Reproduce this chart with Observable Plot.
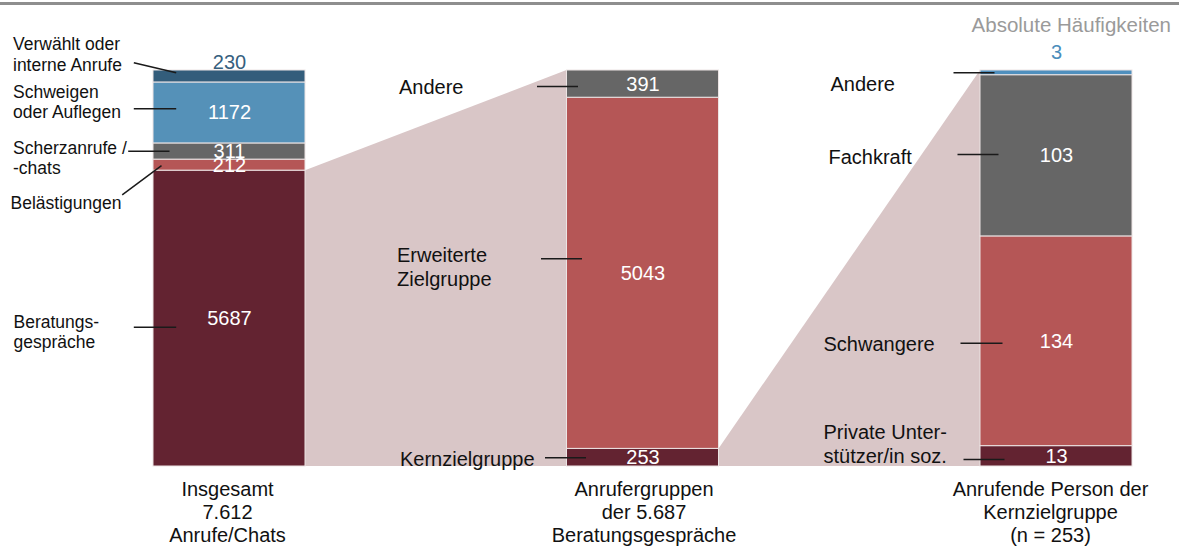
<!DOCTYPE html>
<html><head><meta charset="utf-8">
<script src="https://cdn.jsdelivr.net/npm/d3@7"></script>
<script src="https://cdn.jsdelivr.net/npm/@observablehq/plot@0.6"></script>
<style>
body{margin:0;background:#fff;font-family:"Liberation Sans",Arial,sans-serif;}
#wrap{position:relative;width:1179px;height:549px;overflow:hidden;}
#wrap svg{display:block;}
#rule{position:absolute;left:0;top:2px;width:1179px;height:3px;background:#8e8e8e;}
#unit{position:absolute;right:8px;top:13px;font-size:20.5px;line-height:24px;color:#9a9a9a;}
</style></head><body>
<div id="wrap"><div id="rule"></div><div id="unit">Absolute Häufigkeiten</div></div>
<script>
// ---- data (segments listed bottom to top) ----
const columns = ["Insgesamt\n7.612\nAnrufe/Chats", "Anrufergruppen\nder 5.687\nBeratungsgespräche", "Anrufende Person der\nKernzielgruppe\n(n = 253)"];
const bar1Labels = ["Beratungs-\ngespräche", "Belästigungen", "Scherzanrufe /\n-chats", "Schweigen\noder Auflegen", "Verwählt oder\ninterne Anrufe"];
const bar1Values = [5687, 212, 311, 1172, 230];
const bar2Labels = ["Kernzielgruppe", "Erweiterte\nZielgruppe", "Andere"];
const bar2Values = [253, 5043, 391];
const bar3Labels = ["Private Unter-\nstützer/in soz.", "Schwangere", "Fachkraft", "Andere"];
const bar3Values = [13, 134, 103, 3];

// ---- styles ----
const bar1Colors = ["#632331", "#b55656", "#666666", "#5591b8", "#335d7b"];
const bar2Colors = ["#632331", "#b55656", "#666666"];
const bar3Colors = ["#632331", "#b55656", "#666666", "#4f8fbd"];
const bar1ValueFill = ["#fff", "#fff", "#fff", "#fff", "#36607e"];
const bar2ValueFill = ["#fff", "#fff", "#fff"];
const bar3ValueFill = ["#fff", "#fff", "#fff", "#4a8dbb"];
const bar1ValueDy = [0, 0, 0, 0, -13.5];
const bar2ValueDy = [0, 0, 0];
const bar3ValueDy = [0, 0, 0, -20];
// label layout offsets in px relative to (bar left edge, segment middle): [textX, textY, line x1, y1, x2, y2]
const bar1Layout = [[-140, 12.7, -19.7, 8.6, 22.7, 8.6], [-143, 37, -31.3, 29.7, 8, 0.4], [-140.5, 5.7, -25.3, -0.3, 16, -0.3], [-140.5, -11.7, -19.7, -4.2, 22.7, -4.2], [-140.5, -22.7, -19.7, -13.7, 22.7, -3.7]];
const bar2Layout = [[-167, 1, -22, 0, 19, 0], [-170, -6.8, -26, -14.5, 15, -14.5], [-168, 2.4, -30, 2.4, 11, 2.4]];
const bar3Layout = [[-157, -12.8, -17, 3.2, 24, 3.2], [-157, 2, -20, 2, 22, 2], [-152, 1, -23, -1.3, 18, -1.3], [-150, 11, -27, 0, 14, 0]];
const columnDx = [-2, 1, -6];

const X0 = 229, X2 = 1056, YB = 466, YT = 70;
const PXU = (X2 - X0) / 2, PYU = YB - YT;
const ux = px => px / PXU;
const uy = px => -px / PYU;
const HW = ux(76);

const bars = [
  {labels: bar1Labels, values: bar1Values, colors: bar1Colors, vf: bar1ValueFill, vdy: bar1ValueDy, lay: bar1Layout, fs: 17.5},
  {labels: bar2Labels, values: bar2Values, colors: bar2Colors, vf: bar2ValueFill, vdy: bar2ValueDy, lay: bar2Layout, fs: 20},
  {labels: bar3Labels, values: bar3Values, colors: bar3Colors, vf: bar3ValueFill, vdy: bar3ValueDy, lay: bar3Layout, fs: 20}
];
const segs = [];
bars.forEach((b, i) => {
  const total = d3.sum(b.values);
  let acc = 0;
  b.values.forEach((v, j) => {
    const y1 = acc / total; acc += v; const y2 = acc / total;
    segs.push({bar: i, label: b.labels[j], value: v, y1, y2, mid: (y1 + y2) / 2,
      color: b.colors[j], vf: b.vf[j], vdy: b.vdy[j], lay: b.lay[j], fs: b.fs});
  });
});
// connectors: bottom segment of each bar expands into the next bar
const conn = [];
for (let i = 0; i < bars.length - 1; i++) {
  const s = segs.find(d => d.bar === i && d.y1 === 0);
  conn.push({c: i, x: i + HW, y1: 0, y2: s.y2});
  conn.push({c: i, x: i + 1 - HW, y1: 0, y2: 1});
}

const chart = Plot.plot({
  width: 1179, height: 549,
  marginTop: 0, marginBottom: 0, marginLeft: 0, marginRight: 0,
  style: {fontFamily: "'Liberation Sans', Arial, sans-serif", background: "transparent"},
  x: {domain: [0, 2], range: [X0, X2], axis: null},
  y: {domain: [0, 1], range: [YB, YT], axis: null},
  marks: [
    Plot.areaY(conn, {x: "x", y1: "y1", y2: "y2", z: "c", fill: "#d9c6c7"}),
    Plot.rect(segs, {x1: d => d.bar - HW, x2: d => d.bar + HW, y1: "y1", y2: "y2", fill: "color", stroke: "#ece4e4", strokeWidth: 1}),
    Plot.text(segs, {x: d => d.bar, y: d => d.mid + uy(d.vdy), text: d => String(d.value), fill: "vf", fontSize: 20}),
    Plot.link(segs, {x1: d => d.bar - HW + ux(d.lay[2]), y1: d => d.mid + uy(d.lay[3]), x2: d => d.bar - HW + ux(d.lay[4]), y2: d => d.mid + uy(d.lay[5]), stroke: "#1a1a1a", strokeWidth: 1.5}),
    Plot.text(segs, {x: d => d.bar - HW + ux(d.lay[0]), y: d => d.mid + uy(d.lay[1]), text: "label", textAnchor: "start", lineAnchor: "middle", fontSize: "fs", lineHeight: 1.17, fill: "#111"}),
    Plot.text(columns, {x: (d, i) => i + ux(columnDx[i]), y: () => 0, text: d => d, lineAnchor: "top", dy: 12.5, fontSize: 20, lineHeight: 1.17, fill: "#111"})
  ]
});
document.getElementById("wrap").prepend(chart);
</script>
</body></html>
